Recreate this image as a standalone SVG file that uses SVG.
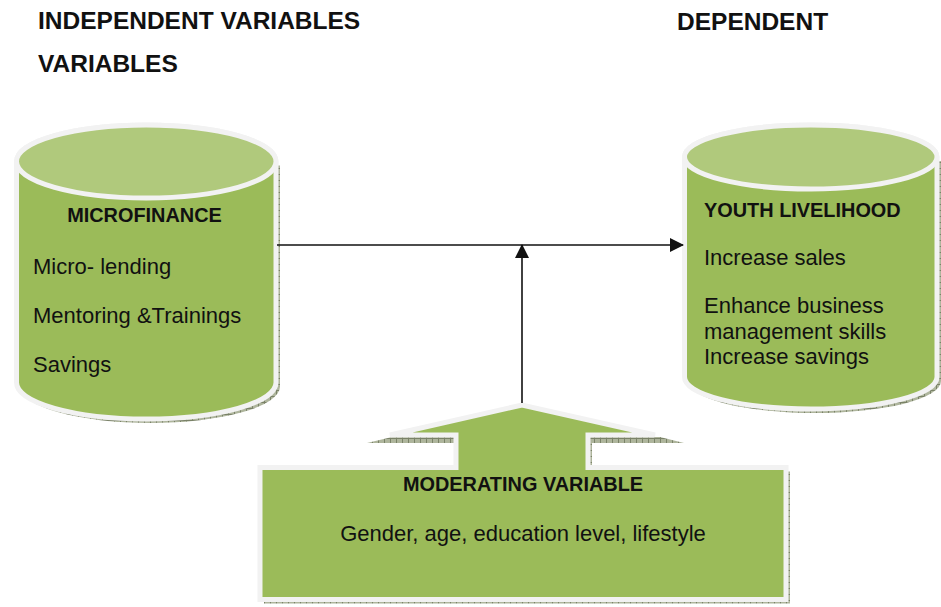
<svg xmlns="http://www.w3.org/2000/svg" width="941" height="607" viewBox="0 0 941 607">
  <defs>
    <!-- hatched drop shadow used under every shape -->
    <pattern id="hatch" width="6" height="6" patternUnits="userSpaceOnUse">
      <rect width="6" height="6" fill="#aeb59c"/>
      <path d="M0 0.5H6M0.5 0V6" stroke="#7a8268" stroke-width="1"/>
    </pattern>
    <marker id="arrow" viewBox="0 0 14 14" refX="13" refY="7" markerWidth="14" markerHeight="14" markerUnits="userSpaceOnUse" orient="auto">
      <path d="M0 0L14 7L0 14Z" fill="#111"/>
    </marker>
  </defs>
  <style>
    .title { font-family: "Liberation Sans", Arial, sans-serif; font-weight: bold; font-size: 24.5px; fill: #111; }
    .head { font-family: "Liberation Sans", Arial, sans-serif; font-weight: bold; font-size: 19.9px; fill: #111; }
    .item { font-family: "Liberation Sans", Arial, sans-serif; font-size: 22px; fill: #111; }
    .body { fill: #9bbb59; stroke: #f2f2f2; stroke-width: 5; stroke-linejoin: miter; }
    .lid { fill: #b0c97c; stroke: #f2f2f2; stroke-width: 5; }
    .shadow { fill: url(#hatch); }
    .link { stroke: #111; stroke-width: 1.6; fill: none; }
  </style>

  <rect width="941" height="607" fill="#ffffff"/>

  <!-- headings -->
  <g id="headings">
    <text class="title" x="38" y="29">INDEPENDENT VARIABLES</text>
    <text class="title" x="38" y="72">VARIABLES</text>
    <text class="title" x="677" y="30">DEPENDENT</text>
  </g>

  <!-- independent variable cylinder -->
  <g id="microfinance">
    <path class="shadow" d="M20.5 165.5V386.5A129.75 36.5 0 0 0 280 386.5V165.5Z"/>
    <path class="body" d="M16.5 161.5V382.5A129.75 36.5 0 0 0 276 382.5V161.5A129.75 36.5 0 0 0 16.5 161.5Z"/>
    <ellipse class="lid" cx="146.25" cy="161.5" rx="129.75" ry="36.5"/>
    <text class="head" x="144.5" y="221.5" text-anchor="middle">MICROFINANCE</text>
    <text class="item" x="33" y="274">Micro- lending</text>
    <text class="item" x="33" y="323">Mentoring &amp;Trainings</text>
    <text class="item" x="33" y="372">Savings</text>
  </g>

  <!-- dependent variable cylinder -->
  <g id="youth-livelihood">
    <path class="shadow" d="M688.5 161V381A126.25 32 0 0 0 941 381V161Z"/>
    <path class="body" d="M684.5 157V377A126.25 32 0 0 0 937 377V157A126.25 32 0 0 0 684.5 157Z"/>
    <ellipse class="lid" cx="810.75" cy="157" rx="126.25" ry="32"/>
    <text class="head" x="704" y="216.5">YOUTH LIVELIHOOD</text>
    <text class="item" x="704" y="265">Increase sales</text>
    <text class="item" x="704" y="313">Enhance business</text>
    <text class="item" x="704" y="338.5">management skills</text>
    <text class="item" x="704" y="364">Increase savings</text>
  </g>

  <!-- moderating variable: box with an upward arrow head -->
  <g id="moderating-variable">
    <path class="shadow" d="M264 471.5H460V439H394L526 409L659 439H592V471.5H790V603.5H264Z"/>
    <path class="shadow" d="M367 443L392 437H456V443Z"/>
    <path class="shadow" d="M588 437H660L684 443H588Z"/>
    <path class="body" d="M260 467.5H456V435H390L522 405L655 435H588V467.5H786V599.5H260Z" stroke-width="6"/>
    <text class="head" x="523" y="491" text-anchor="middle">MODERATING VARIABLE</text>
    <text class="item" x="523" y="541" text-anchor="middle">Gender, age, education level, lifestyle</text>
  </g>

  <!-- connectors -->
  <g id="connectors">
    <line class="link" x1="277" y1="245" x2="683" y2="245" marker-end="url(#arrow)"/>
    <line class="link" x1="522" y1="403" x2="522" y2="245" marker-end="url(#arrow)"/>
  </g>
</svg>
